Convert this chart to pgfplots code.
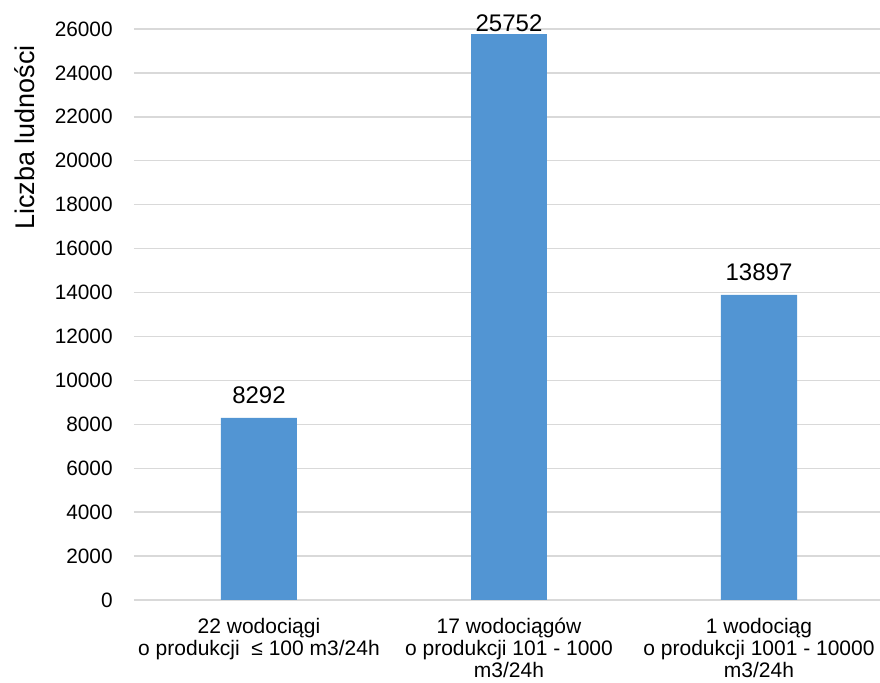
\documentclass[border=0pt]{standalone}
\usepackage{pgfplots}
\pgfplotsset{compat=1.18}
\usepackage{fontspec}
\setmainfont{Liberation Sans}
\definecolor{barblue}{RGB}{82,149,211}
\definecolor{gridgray}{RGB}{217,217,217}
\begin{document}
\begin{tikzpicture}
\begin{axis}[
  at={(0,0)}, anchor=south west,
  width=373pt, height=285.5pt, scale only axis,
  xmin=-0.5, xmax=2.484, ymin=0, ymax=26000,
  ytick={0,2000,...,26000},
  xtick={0,1,2},
  xticklabels={{22 wodociągi\\o produkcji~ ≤ 100 m3/24h},{17 wodociągów\\o produkcji 101 - 1000\\m3/24h},{1 wodociąg\\o produkcji 1001 - 10000\\m3/24h}},
  ymajorgrids, major grid style={gridgray, line width=0.7pt},
  axis line style={draw=none},
  major tick length=0pt,
  /pgf/number format/assume math mode=true,
  /pgf/number format/1000 sep={},
  scaled y ticks=false,
  yticklabel style={font=\fontsize{10.4}{12}\selectfont, anchor=east, inner sep=0pt, xshift=-10.5pt},
  xticklabel style={align=center, font=\fontsize{10.5}{11}\selectfont, anchor=north, inner sep=0pt, yshift=-8.8pt},
  ylabel={Liczba ludności},
  ylabel style={at={(axis description cs:-0.147,0.81)}, anchor=center, font=\fontsize{13.5}{16}\selectfont},
  clip=false,
]
\addplot[ybar, bar width=38pt, bar shift=0pt, fill=barblue, draw=none,
  nodes near coords, nodes near coords style={font=\fontsize{12}{14}\selectfont, anchor=base, yshift=7pt}]
  coordinates {(0,8292) (2,13897)};
\addplot[ybar, bar width=38pt, bar shift=0pt, fill=barblue, draw=none,
  nodes near coords, nodes near coords style={font=\fontsize{12}{14}\selectfont, anchor=base, yshift=1.5pt}]
  coordinates {(1,25752)};
\end{axis}
\pgfresetboundingbox
\path[use as bounding box] (-67pt,-41.5pt) rectangle (373pt,300pt);
\end{tikzpicture}
\end{document}
